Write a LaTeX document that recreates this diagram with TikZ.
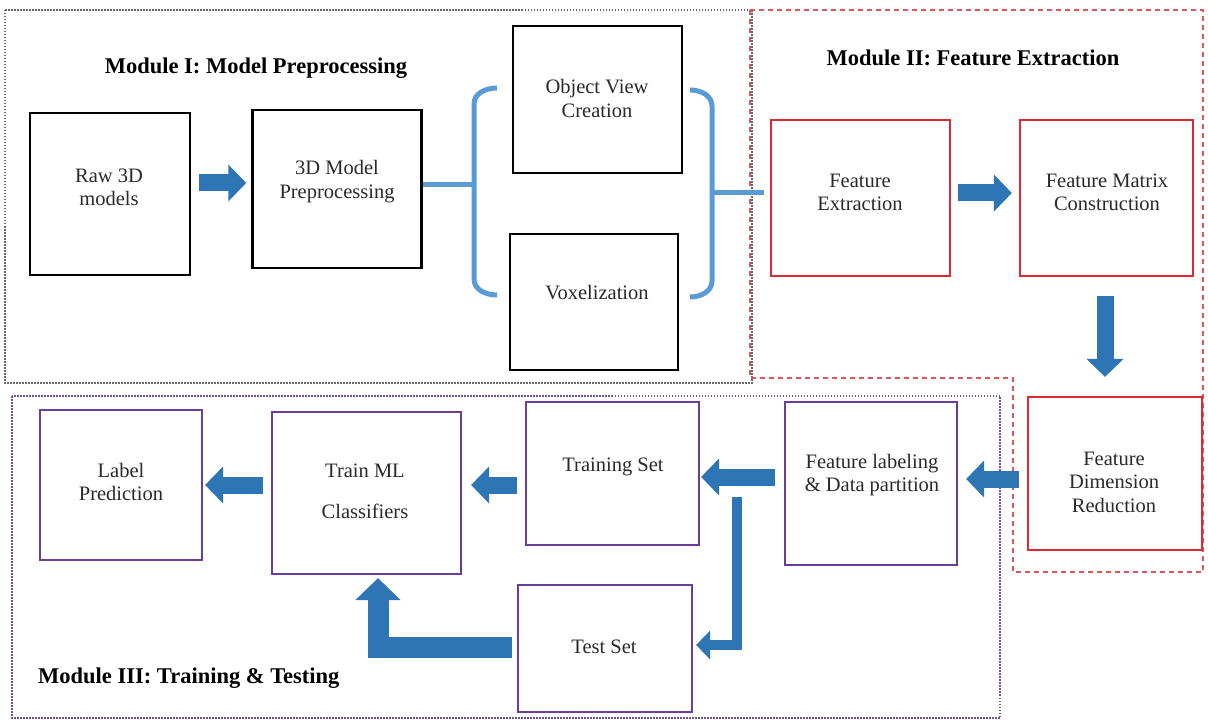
\documentclass[tikz,border=0pt]{standalone}
\usepackage{fontspec}
\setmainfont{Liberation Serif}
\usetikzlibrary{arrows.meta}
\definecolor{arrowblue}{HTML}{2E75B6}
\definecolor{bracketblue}{HTML}{5B9BD5}
\definecolor{boxred}{HTML}{D92A35}
\definecolor{boxpurple}{HTML}{6A3D9A}
\definecolor{txtgray}{HTML}{2A2A2A}
\tikzset{
  boxk/.style={draw=black, line width=2.5pt, rectangle, inner sep=0pt},
  boxr/.style={draw=boxred, line width=2.2pt, rectangle, inner sep=0pt},
  boxp/.style={draw=boxpurple, line width=2.2pt, rectangle, inner sep=0pt},
  txt/.style={text=txtgray, align=center, font=\fontsize{20.5}{23.5}\selectfont, inner sep=0pt},
  title/.style={text=black, font=\fontsize{22.5}{26}\selectfont\bfseries, inner sep=0pt},
  fatarrow/.style={draw=arrowblue, line width=17pt, -{Triangle[length=18pt,width=36pt]}},
  medarrow/.style={draw=arrowblue, line width=10pt, -{Triangle[length=14pt,width=28pt]}},
  hugearrow/.style={draw=arrowblue, line width=21pt, -{Triangle[length=22pt,width=44pt]}},
  brk/.style={draw=bracketblue, line width=5pt},
  modone/.style={draw=gray!80!black, line width=1.2pt, dash pattern=on 1.5pt off 1.5pt},
  modtwo/.style={draw=boxred!80, line width=1.5pt, dash pattern=on 5pt off 4pt},
  modthree/.style={draw=boxpurple!70!gray, line width=1.2pt, dash pattern=on 1.5pt off 1.5pt},
}
\begin{document}
\begin{tikzpicture}[x=1pt,y=-1pt]
\useasboundingbox[fill=white] (0,0) rectangle (1208,722);
% module frames
\draw[modone] (5,10) rectangle (752,383);
\draw[modtwo] (750,10) -- (1203,10) -- (1203,572) -- (1013,572) -- (1013,378) -- (750,378) -- cycle;
\draw[modthree] (12,396) rectangle (1000,718);
% titles
\node[title] (t1) at (256,68) {Module I: Model Preprocessing};
\node[title] (t2) at (973,58) {Module II: Feature Extraction};
\node[title, anchor=west] (t3) at (38,678) {Module III: Training \& Testing};
% Module I boxes
\node[boxk, minimum width=160pt, minimum height=162pt] (raw) at (110,194) {};
\node[txt] at (109,187.5) {Raw 3D\\models};
\node[boxk, minimum width=169pt, minimum height=158pt] (pre) at (337,189) {};
\node[txt] at (337,181.5) {3D Model\\Preprocessing};
\node[boxk, minimum width=169pt, minimum height=147pt] (ovc) at (597.5,99.5) {};
\node[txt] at (597,98.5) {Object View\\Creation};
\node[boxk, minimum width=168pt, minimum height=136pt] (vox) at (594,302) {};
\node[txt] at (597,293) {Voxelization};
% Module II boxes
\node[boxr, minimum width=179pt, minimum height=156pt] (fe) at (860.5,198) {};
\node[txt] at (860,192.5) {Feature\\Extraction};
\node[boxr, minimum width=173pt, minimum height=156pt] (fmc) at (1106.5,198) {};
\node[txt] at (1107,192.5) {Feature Matrix\\Construction};
\node[boxr, minimum width=174pt, minimum height=153pt] (fdr) at (1115,473.5) {};
\node[txt] at (1114,482) {Feature\\Dimension\\Reduction};
% Module III boxes
\node[boxp, minimum width=172pt, minimum height=163pt] (fl) at (871,483.5) {};
\node[txt] at (872,475) {Feature labeling\\\& Data partition};
\node[boxp, minimum width=173pt, minimum height=143pt] (ts) at (612.5,473.5) {};
\node[txt] at (613,467) {Training Set};
\node[boxp, minimum width=189pt, minimum height=162pt] (tml) at (366.5,493) {};
\node[txt] at (365,471) {Train ML};
\node[txt] at (365,511) {Classifiers};
\node[boxp, minimum width=162pt, minimum height=150pt] (lp) at (121,485) {};
\node[txt] at (121,482) {Label\\Prediction};
\node[boxp, minimum width=174pt, minimum height=127pt] (test) at (605,648.5) {};
\node[txt] at (604,647) {Test Set};
% brackets
\coordinate (lb) at (474,185);
\coordinate (rb) at (712,193);
\draw[brk] (pre.east |- lb) -- (lb);
\draw[brk] (497,88) to[out=180,in=90] (474,104) -- (474,279) to[out=-90,in=180] (497,295);
\draw[brk] (690,90) to[out=0,in=90] (712,106) -- (712,281) to[out=-90,in=0] (690,297);
\draw[brk, shorten >=6pt] (rb) -- (fe.west |- rb);
% arrows
\draw[fatarrow, shorten <=8pt, shorten >=5pt] (raw.east |- 0,183) -- (pre.west |- 0,183);
\draw[fatarrow, shorten <=7pt, shorten >=7pt] (fe.east |- 0,193) -- (fmc.west |- 0,193);
\draw[fatarrow, shorten <=19pt, shorten >=19pt] (fmc.south -| 1105,0) -- (fdr.north -| 1105,0);
\draw[fatarrow, shorten <=8pt, shorten >=8pt] (fdr.west |- 0,479) -- (fl.east |- 0,479);
\draw[fatarrow, shorten <=9pt, shorten >=1pt] (fl.west |- 0,477) -- (ts.east |- 0,477);
\draw[fatarrow, shorten <=8pt, shorten >=9pt] (ts.west |- 0,485) -- (tml.east |- 0,485);
\draw[fatarrow, shorten <=8pt, shorten >=2pt] (tml.west |- 0,485) -- (lp.east |- 0,485);
\coordinate (split) at (737,497);
\draw[medarrow, shorten >=3pt] (split) |- (test.east |- 0,645);
\draw[hugearrow, shorten <=5pt, shorten >=3pt] (test.west |- 0,647) -| (tml.south -| 378,0);
\end{tikzpicture}
\end{document}
